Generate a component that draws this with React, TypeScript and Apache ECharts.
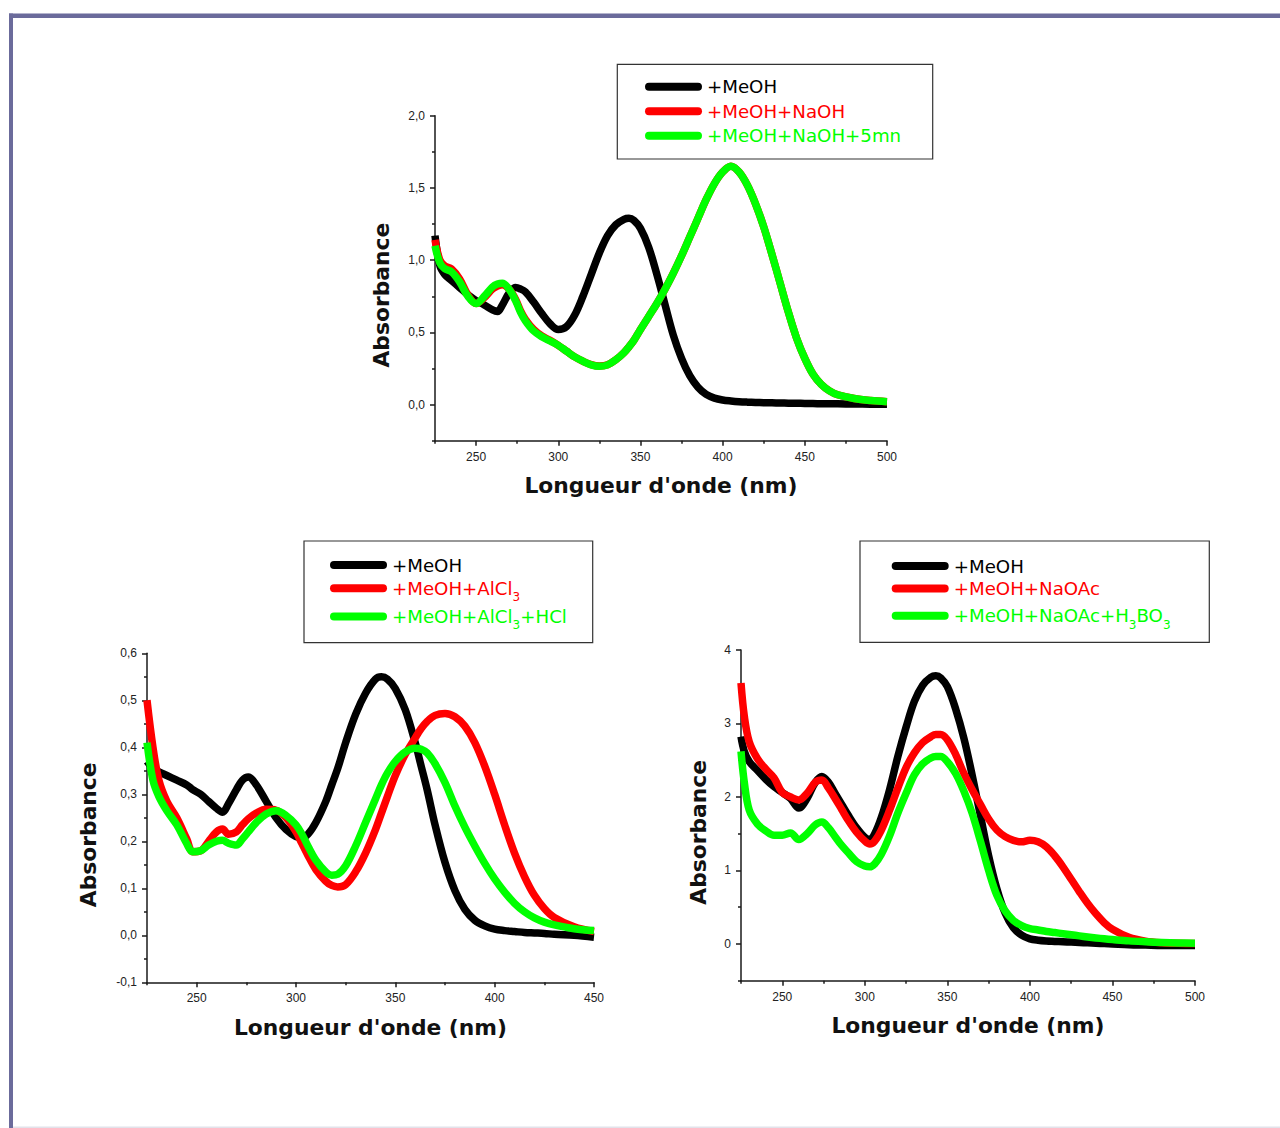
import React, { useEffect, useRef } from "react";
import * as echarts from "echarts";

const TICK_FONT = "'Liberation Sans', Arial, sans-serif";
const TITLE_FONT = "'DejaVu Sans', sans-serif";
const BLACK = "#000000";
const RED = "#ff0000";
const GREEN = "#00ff00";
const X_TITLE = "Longueur d'onde (nm)";
const Y_TITLE = "Absorbance";

// ---------- Chart 1 (top): NaOH ----------
const wl1 = [225, 228, 231, 235, 240, 245, 250, 255, 260, 263, 266, 270, 274, 277, 280, 285, 290, 295, 300, 305, 310, 315, 320, 325, 330, 335, 340, 343, 346, 350, 355, 360, 365, 370, 375, 380, 385, 390, 395, 400, 405, 410, 415, 420, 425, 430, 435, 440, 445, 450, 455, 460, 465, 470, 480, 490, 500];
const meoh1 = [1.17, 0.96, 0.9, 0.86, 0.81, 0.76, 0.72, 0.69, 0.655, 0.645, 0.69, 0.77, 0.81, 0.8, 0.78, 0.71, 0.63, 0.56, 0.52, 0.54, 0.62, 0.75, 0.9, 1.05, 1.17, 1.245, 1.283, 1.29, 1.275, 1.22, 1.09, 0.9, 0.69, 0.48, 0.32, 0.2, 0.12, 0.07, 0.045, 0.032, 0.025, 0.02, 0.017, 0.015, 0.013, 0.012, 0.011, 0.01, 0.009, 0.008, 0.007, 0.006, 0.005, 0.005, 0.004, 0.003, 0.002];
const naoh1 = [1.14, 1.0, 0.96, 0.94, 0.87, 0.76, 0.7, 0.74, 0.8, 0.82, 0.83, 0.8, 0.73, 0.65, 0.59, 0.52, 0.475, 0.445, 0.41, 0.37, 0.33, 0.3, 0.277, 0.267, 0.275, 0.31, 0.36, 0.4, 0.445, 0.52, 0.61, 0.7, 0.8, 0.91, 1.03, 1.16, 1.29, 1.42, 1.53, 1.61, 1.65, 1.61, 1.52, 1.39, 1.23, 1.04, 0.84, 0.64, 0.46, 0.32, 0.21, 0.14, 0.095, 0.068, 0.042, 0.028, 0.02];
const naoh5mn1 = [1.1, 0.98, 0.94, 0.92, 0.85, 0.75, 0.7, 0.75, 0.815, 0.835, 0.84, 0.8, 0.72, 0.64, 0.58, 0.51, 0.47, 0.44, 0.41, 0.37, 0.33, 0.3, 0.275, 0.265, 0.275, 0.31, 0.36, 0.4, 0.445, 0.52, 0.61, 0.7, 0.8, 0.91, 1.03, 1.16, 1.29, 1.42, 1.53, 1.61, 1.65, 1.61, 1.52, 1.39, 1.23, 1.04, 0.84, 0.64, 0.46, 0.32, 0.21, 0.14, 0.095, 0.068, 0.042, 0.028, 0.02];
const names1 = ["+MeOH", "+MeOH+NaOH", "+MeOH+NaOH+5mn"];
const xMajor1 = [250, 300, 350, 400, 450, 500];
const xMinor1 = [225, 275, 325, 375, 425, 475];
const yMajor1 = [0, 0.5, 1, 1.5, 2];
const yMinor1 = [-0.25, 0.25, 0.75, 1.25, 1.75];

// ---------- Chart 2 (bottom left): AlCl3 ----------
const wl2 = [225, 228, 231, 235, 240, 245, 248, 252, 256, 260, 263, 266, 270, 273, 276, 280, 285, 290, 295, 300, 303, 306, 310, 315, 318, 321, 325, 330, 335, 340, 343, 346, 350, 355, 360, 363, 366, 370, 375, 380, 385, 390, 395, 400, 405, 410, 415, 420, 425, 430, 440, 450];
const meoh2 = [0.37, 0.355, 0.348, 0.34, 0.33, 0.32, 0.31, 0.3, 0.285, 0.27, 0.262, 0.28, 0.31, 0.33, 0.337, 0.32, 0.285, 0.25, 0.225, 0.21, 0.208, 0.215, 0.24, 0.285, 0.32, 0.355, 0.41, 0.47, 0.515, 0.545, 0.55, 0.545, 0.525, 0.48, 0.41, 0.36, 0.31, 0.235, 0.155, 0.095, 0.055, 0.032, 0.02, 0.013, 0.01, 0.008, 0.006, 0.005, 0.004, 0.002, 0.0, -0.004];
const alcl2 = [0.5, 0.4, 0.33, 0.285, 0.25, 0.205, 0.178, 0.18, 0.2, 0.22, 0.226, 0.215, 0.22, 0.235, 0.248, 0.26, 0.268, 0.266, 0.25, 0.22, 0.195, 0.17, 0.14, 0.115, 0.106, 0.103, 0.108, 0.135, 0.175, 0.225, 0.26, 0.295, 0.34, 0.385, 0.42, 0.44, 0.455, 0.468, 0.472, 0.465, 0.445, 0.41, 0.36, 0.3, 0.235, 0.175, 0.125, 0.085, 0.057, 0.038, 0.018, 0.008];
const alclHcl2 = [0.41, 0.33, 0.295, 0.265, 0.235, 0.195, 0.178, 0.18, 0.192, 0.2, 0.202, 0.196, 0.192, 0.205, 0.22, 0.24, 0.258, 0.265, 0.255, 0.235, 0.215, 0.19, 0.16, 0.135, 0.128, 0.13, 0.148, 0.19, 0.24, 0.29, 0.32, 0.345, 0.37, 0.39, 0.398, 0.396, 0.388, 0.365, 0.325, 0.275, 0.23, 0.19, 0.153, 0.12, 0.092, 0.068, 0.05, 0.037, 0.028, 0.022, 0.014, 0.01];
const names2 = ["+MeOH", "+MeOH+AlCl3", "+MeOH+AlCl3+HCl"];
const xMajor2 = [250, 300, 350, 400, 450];
const xMinor2 = [225, 275, 325, 375, 425];
const yMajor2 = [-0.1, 0, 0.1, 0.2, 0.3, 0.4, 0.5, 0.6];
const yMinor2 = [-0.05, 0.05, 0.15, 0.25, 0.35, 0.45, 0.55];

// ---------- Chart 3 (bottom right): NaOAc ----------
const wl3 = [225, 227, 230, 235, 240, 245, 250, 255, 260, 265, 270, 274, 278, 282, 286, 290, 295, 300, 303, 306, 310, 315, 320, 325, 330, 335, 340, 343, 346, 350, 355, 360, 365, 370, 375, 380, 385, 390, 395, 400, 405, 410, 415, 420, 425, 430, 435, 440, 445, 450, 460, 470, 480, 490, 500];
const meoh3 = [2.82, 2.62, 2.48, 2.36, 2.24, 2.14, 2.06, 1.98, 1.85, 1.98, 2.2, 2.28, 2.2, 2.05, 1.9, 1.75, 1.58, 1.45, 1.42, 1.5, 1.72, 2.1, 2.55, 2.95, 3.3, 3.52, 3.63, 3.65, 3.62, 3.5, 3.2, 2.8, 2.3, 1.75, 1.2, 0.75, 0.42, 0.22, 0.12, 0.07, 0.05, 0.04, 0.035, 0.03, 0.025, 0.02, 0.015, 0.01, 0.005, 0.0, -0.01, -0.015, -0.02, -0.02, -0.02];
const naoac3 = [3.55, 3.1, 2.75, 2.52, 2.38, 2.26, 2.06, 2.0, 1.96, 2.05, 2.2, 2.23, 2.12, 1.98, 1.83, 1.68, 1.52, 1.4, 1.36, 1.4, 1.55, 1.82, 2.12, 2.4, 2.6, 2.74, 2.82, 2.85, 2.85, 2.78, 2.58, 2.32, 2.1, 1.9, 1.7, 1.55, 1.46, 1.41, 1.39, 1.41, 1.39, 1.32, 1.2, 1.05, 0.88, 0.71, 0.55, 0.41, 0.29, 0.2, 0.09, 0.038, 0.016, 0.008, 0.005];
const naoacBo3 = [2.62, 2.2, 1.82, 1.63, 1.54, 1.48, 1.48, 1.51, 1.42, 1.5, 1.62, 1.66, 1.58, 1.46, 1.34, 1.24, 1.12, 1.06, 1.05, 1.09, 1.22, 1.47, 1.78, 2.05, 2.3, 2.45, 2.53, 2.55, 2.55, 2.48, 2.32, 2.08, 1.78, 1.4, 1.0, 0.66, 0.45, 0.32, 0.25, 0.21, 0.19, 0.17, 0.155, 0.14, 0.125, 0.11, 0.095, 0.082, 0.07, 0.06, 0.042, 0.03, 0.02, 0.013, 0.01];
const names3 = ["+MeOH", "+MeOH+NaOAc", "+MeOH+NaOAc+H3BO3"];
const xMajor3 = [250, 300, 350, 400, 450, 500];
const xMinor3 = [225, 275, 325, 375, 425, 475];
const yMajor3 = [0, 1, 2, 3, 4];
const yMinor3 = [-0.5, 0.5, 1.5, 2.5, 3.5];

const COLORS = [BLACK, RED, GREEN];
const zip = (xs: number[], ys: number[]) => xs.map((x, i) => [x, ys[i]]);
const dec1 = (v: number) => v.toFixed(1).replace(".", ",");
const int0 = (v: number) => String(Math.round(v));

const AXIS_LINE = { color: "#1a1a1a", width: 1.5 };

function xAxes(grid: number, min: number, max: number, major: number[], minor: number[]) {
  return [
    {
      type: "value", gridIndex: grid, min, max, position: "bottom",
      axisLine: { show: true, onZero: false, lineStyle: AXIS_LINE },
      axisTick: { show: true, inside: false, length: 5, customValues: major, lineStyle: AXIS_LINE },
      axisLabel: { show: true, customValues: major, margin: 10, fontSize: 12, color: "#222", fontFamily: TICK_FONT, formatter: (v: number) => int0(v) },
      splitLine: { show: false },
      name: X_TITLE, nameLocation: "middle", nameGap: 34,
      nameTextStyle: { fontFamily: TITLE_FONT, fontWeight: "bold", fontSize: 21.8, color: "#111" },
    },
    {
      type: "value", gridIndex: grid, min, max, position: "bottom",
      axisLine: { show: false, onZero: false },
      axisTick: { show: true, inside: false, length: 3, customValues: minor, lineStyle: AXIS_LINE },
      axisLabel: { show: false },
      splitLine: { show: false },
    },
  ];
}

function yAxes(grid: number, min: number, max: number, major: number[], minor: number[], fmt: (v: number) => string, nameGap: number) {
  return [
    {
      type: "value", gridIndex: grid, min, max, position: "left",
      axisLine: { show: true, onZero: false, lineStyle: AXIS_LINE },
      axisTick: { show: true, inside: false, length: 5, customValues: major, lineStyle: AXIS_LINE },
      axisLabel: { show: true, customValues: major, margin: 10, fontSize: 12, color: "#222", fontFamily: TICK_FONT, formatter: fmt },
      splitLine: { show: false },
      name: Y_TITLE, nameLocation: "middle", nameGap,
      nameTextStyle: { fontFamily: TITLE_FONT, fontWeight: "bold", fontSize: 21.8, color: "#111", padding: [0, 34, 0, 0] },
    },
    {
      type: "value", gridIndex: grid, min, max, position: "left",
      axisLine: { show: false, onZero: false },
      axisTick: { show: true, inside: false, length: 3, customValues: minor, lineStyle: AXIS_LINE },
      axisLabel: { show: false },
      splitLine: { show: false },
    },
  ];
}

function seriesFor(grid: number, names: string[], wl: number[], ys: number[][]) {
  return names.map((name, i) => ({
    type: "line",
    name,
    xAxisIndex: grid * 2,
    yAxisIndex: grid * 2,
    data: zip(wl, ys[i]),
    symbol: "none",
    showSymbol: false,
    smooth: 0.35,
    color: COLORS[i],
    lineStyle: { width: 7.5, color: COLORS[i], cap: "butt", join: "round" },
    itemStyle: { color: COLORS[i] },
    z: 2 + i,
  }));
}

const PILL = "path://M4 0H53A4 4 0 0 1 53 8H4A4 4 0 0 1 4 0Z";
const KEY = ["k", "r", "g"];

function legendFor(names: string[], left: number, top: number, gap: number) {
  const keyOf: Record<string, string> = {};
  names.forEach((n, i) => (keyOf[n] = KEY[i]));
  const rich: Record<string, any> = {};
  KEY.forEach((k, i) => {
    rich["n" + k] = { fontSize: 18.2, fontFamily: TITLE_FONT, lineHeight: 20, verticalAlign: "middle", color: COLORS[i] };
    rich["s" + k] = { fontSize: 12, fontFamily: TITLE_FONT, lineHeight: 29.7, verticalAlign: "bottom", color: COLORS[i] };
  });
  return {
    show: true,
    orient: "vertical",
    left,
    top,
    padding: 0,
    itemGap: gap,
    itemWidth: 57,
    itemHeight: 8,
    icon: PILL,
    selectedMode: false,
    borderWidth: 0,
    itemStyle: { borderWidth: 0 },
    textStyle: { fontSize: 18.2, fontFamily: TITLE_FONT, lineHeight: 20, rich },
    formatter: (name: string) => {
      if (!name.includes("3")) return name;
      const k = keyOf[name];
      const parts = name.split("3");
      return parts.map((p, i) => (p ? `{n${k}|${p}}` : "") + (i < parts.length - 1 ? `{s${k}|3}` : "")).join("");
    },
    data: names.map((n, i) => ({ name: n, textStyle: { color: COLORS[i] } })),
  };
}

const boxStyle = { fill: "#ffffff", stroke: "#333333", lineWidth: 1.2 };

export default function App() {
  const ref = useRef<HTMLDivElement>(null);
  useEffect(() => {
    if (!ref.current) return;
    const chart = echarts.init(ref.current, null, { renderer: "svg" });
    const option: any = {
      animation: false,
      backgroundColor: "#ffffff",
      grid: [
        { left: 435, top: 115.7, width: 452, height: 325, containLabel: false },
        { left: 147, top: 653.3, width: 447, height: 329, containLabel: false },
        { left: 741, top: 650, width: 454, height: 330.7, containLabel: false },
      ],
      xAxis: [
        ...xAxes(0, 225, 500, xMajor1, xMinor1),
        ...xAxes(1, 225, 450, xMajor2, xMinor2),
        ...xAxes(2, 225, 500, xMajor3, xMinor3),
      ],
      yAxis: [
        ...yAxes(0, -0.25, 2, yMajor1, yMinor1, dec1, 43),
        ...yAxes(1, -0.1, 0.6, yMajor2, yMinor2, dec1, 48),
        ...yAxes(2, -0.5, 4, yMajor3, yMinor3, int0, 32),
      ],
      legend: [
        legendFor(names1, 645, 76.7, 4.5),
        legendFor(names2, 330, 555, -1.5),
        legendFor(names3, 891.7, 556, 2.5),
      ],
      graphic: [
        { type: "rect", z: 0, shape: { x: 617.3, y: 64.3, width: 315.4, height: 94.7 }, style: boxStyle },
        { type: "rect", z: 0, shape: { x: 304, y: 541, width: 288.7, height: 101.7 }, style: boxStyle },
        { type: "rect", z: 0, shape: { x: 860, y: 541, width: 349.3, height: 101.3 }, style: boxStyle },
        { type: "rect", z: 10, shape: { x: 9, y: 13.5, width: 1271, height: 4.5 }, style: { fill: "#6b6b9b" } },
        { type: "rect", z: 10, shape: { x: 9, y: 13.5, width: 4, height: 1114.5 }, style: { fill: "#6b6b9b" } },
        { type: "rect", z: 10, shape: { x: 13, y: 1126.5, width: 1267, height: 1.5 }, style: { fill: "#e2e2ea" } },
      ],
      series: [
        ...seriesFor(0, names1, wl1, [meoh1, naoh1, naoh5mn1]),
        ...seriesFor(1, names2, wl2, [meoh2, alcl2, alclHcl2]),
        ...seriesFor(2, names3, wl3, [meoh3, naoac3, naoacBo3]),
      ],
    };
    chart.setOption(option);
    return () => chart.dispose();
  }, []);
  return (
    <div
      ref={ref}
      style={{ position: "absolute", left: 0, top: 0, width: 1280, height: 1128, background: "#ffffff" }}
    />
  );
}
